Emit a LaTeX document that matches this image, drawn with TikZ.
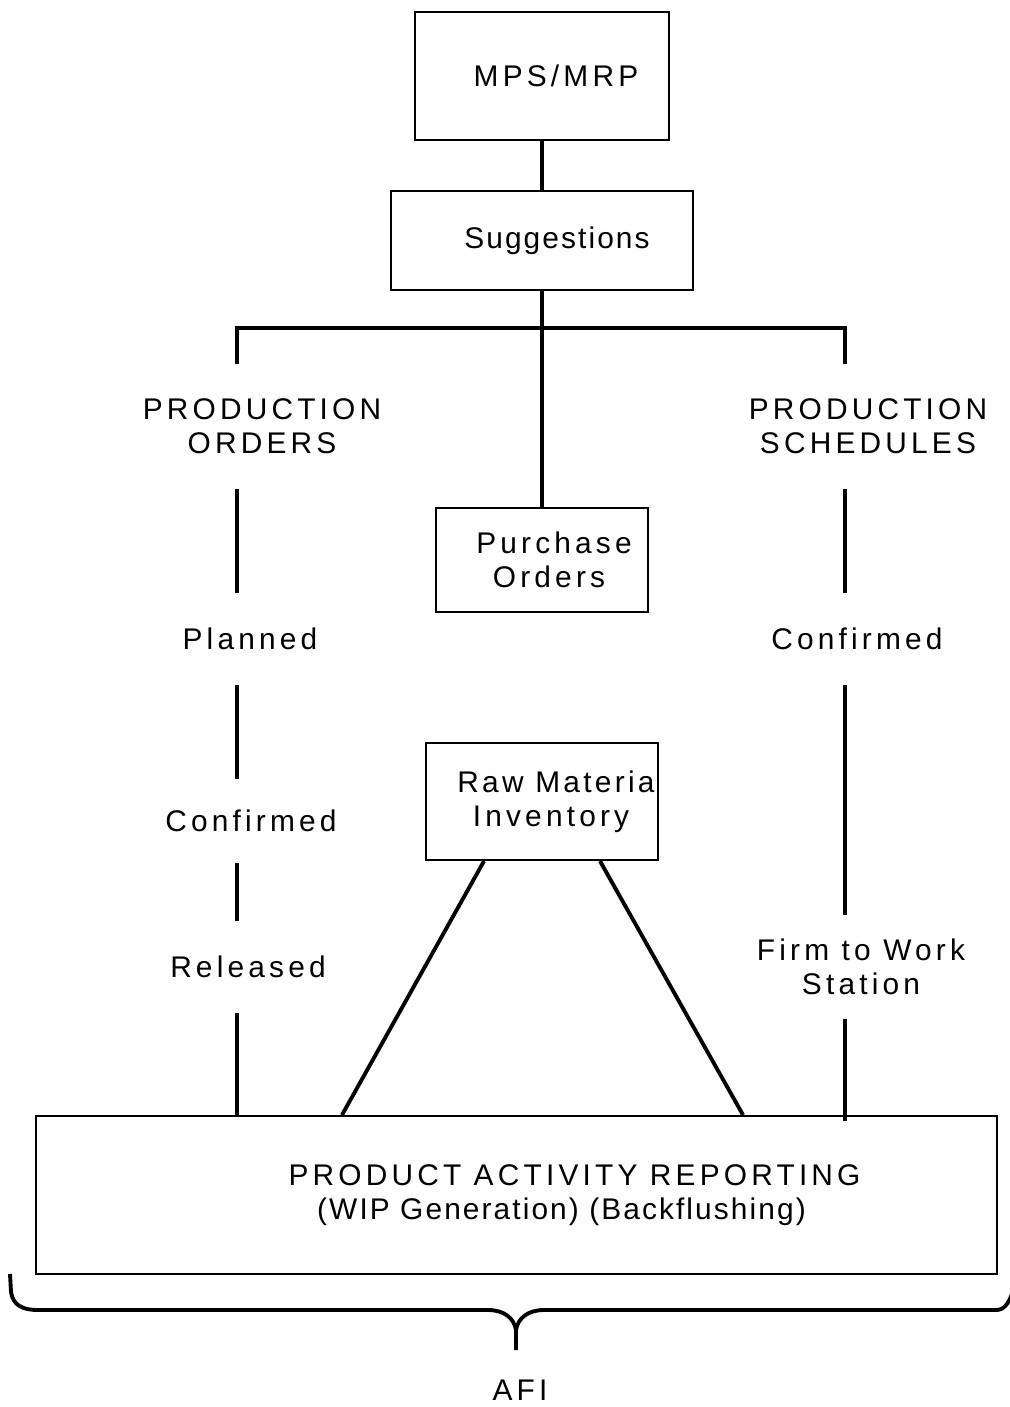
\documentclass[tikz,border=0pt]{standalone}
\usepackage{fontspec}
\setmainfont{Liberation Sans}[LetterSpace=14]
\usetikzlibrary{positioning}

\tikzset{
	box/.style={draw, line width=0.6pt, inner sep=0pt, align=center},
	lbl/.style={align=center, inner xsep=0pt, inner ysep=3.4mm},
	link/.style={line width=1.1pt},
}

\begin{document}
\begin{tikzpicture}[x=0.1mm, y=-0.1mm, font=\fontsize{8.5pt}{9.8pt}\selectfont]
\useasboundingbox (0,0) rectangle (1010,1407);

% boxes
\node[box, minimum width=25.4mm, minimum height=12.8mm] (mps) at (542,76) {\hspace*{2.8mm}MPS/MRP};
\node[box, minimum width=30.2mm, minimum height=9.9mm] (sugg) at (542,240.5) {\hspace*{3mm}\addfontfeature{LetterSpace=7}Suggestions};
\node[box, minimum width=21.2mm, minimum height=10.4mm] (purch) at (542,560) {\hspace*{2.4mm}Purchase\\\hspace*{1.4mm}Orders};
\node[box, minimum width=23.2mm, minimum height=11.7mm] (raw) at (542,801.5) {\hspace*{2.8mm}{\addfontfeature{LetterSpace=11}Raw Materia}\\\hspace*{1.8mm}Inventory};
\node[box, minimum width=96.1mm, minimum height=15.8mm] (par) at (516.5,1195) {\hspace*{11.6mm}PRODUCT ACTIVITY REPORTING\\\hspace*{9mm}{\addfontfeature{LetterSpace=7}(WIP Generation) (Backflushing)}};

% column labels
\node[lbl] (po) at (262,426) {PRODUCTION\\ORDERS};
\node[lbl] (planned) at (250,639) {Planned};
\node[lbl, inner ysep=3mm] (confl) at (251,821) {Confirmed};
\node[lbl] (released) at (248,967) {Released};
\node[lbl] (ps) at (868,426) {PRODUCTION\\SCHEDULES};
\node[lbl] (confr) at (857,639) {Confirmed};
\node[lbl, inner ysep=2.3mm] (firm) at (861,967) {Firm to Work\\Station};
\node (afi) at (520,1390) {AFI};

\coordinate (lbar) at (237,328);
\coordinate (rbar) at (845,328);

% connectors
\draw[link] (mps) -- (sugg);
\draw[link] (sugg) -- (purch);
\draw[link] (lbar |- po.north) -- (lbar) -- (rbar) -- (rbar |- ps.north);
\draw[link] (lbar |- po.south) -- (lbar |- planned.north);
\draw[link] (lbar |- planned.south) -- (lbar |- confl.north);
\draw[link] (lbar |- confl.south) -- (lbar |- released.north);
\draw[link] (lbar |- released.south) -- (lbar |- par.north);
\draw[link] (rbar |- ps.south) -- (rbar |- confr.north);
\draw[link] (rbar |- confr.south) -- (rbar |- firm.north);
\draw[link] (rbar |- firm.south) -- ([yshift=-0.6mm]rbar |- par.north);
\draw[link] ([xshift=-5.8mm]raw.south) -- ([xshift=-17.45mm]par.north);
\draw[link] ([xshift=5.8mm]raw.south) -- ([xshift=22.65mm]par.north);

% brace
\draw[link] (10,1274) -- (11,1292) .. controls (13,1305) and (22,1310) .. (38,1310) -- (488,1310)
	.. controls (504,1310) and (514,1318) .. (516,1330) -- (516,1350);
\draw[link] (516,1330) .. controls (518,1318) and (528,1310) .. (544,1310) -- (996,1310)
	.. controls (1004,1310) and (1008,1304) .. (1012,1294);
\end{tikzpicture}
\end{document}
